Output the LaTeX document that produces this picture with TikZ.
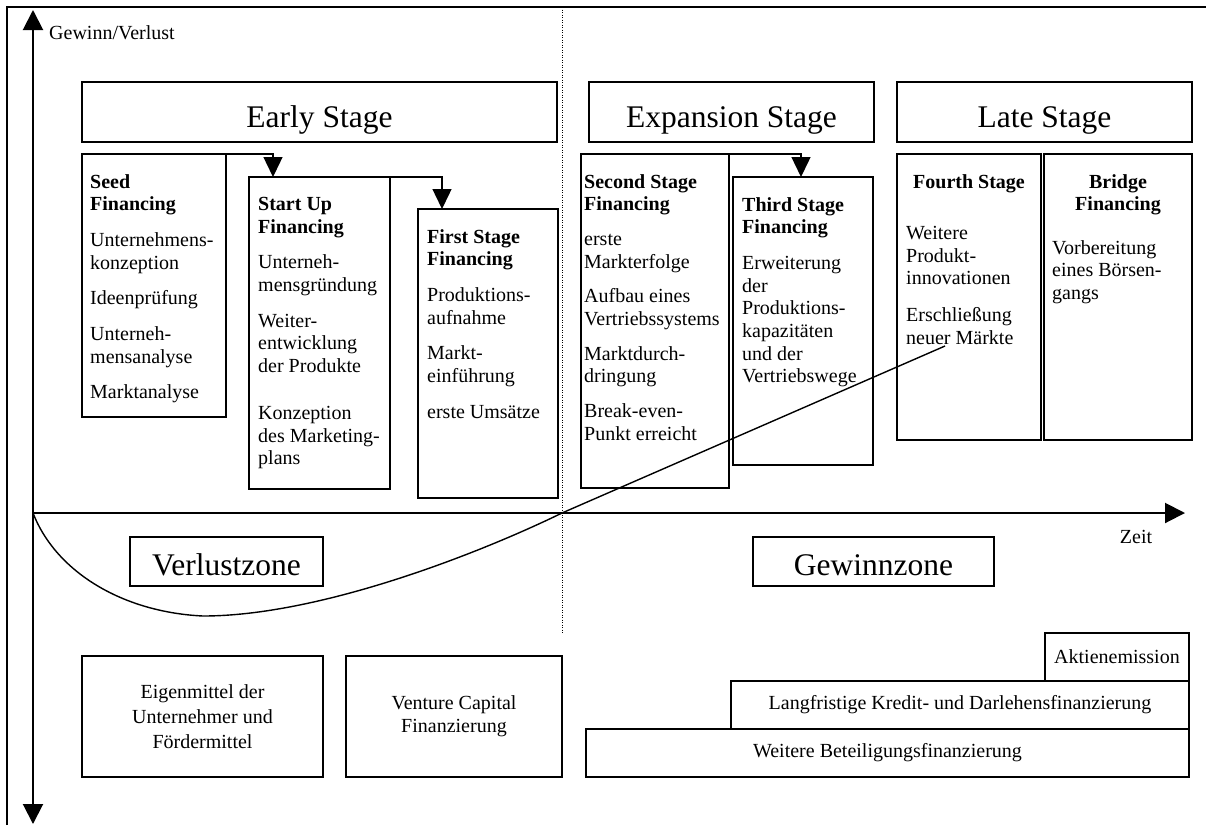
\documentclass[tikz,border=0pt]{standalone}
\usepackage{fontspec}
\setmainfont{Liberation Serif}
\usetikzlibrary{arrows.meta,calc}
\tikzset{
  bx/.style={draw, line width=1.4pt, anchor=north west, inner sep=0pt, outer sep=0pt},
  body/.style={anchor=north west, inner sep=0pt, align=left, font=\fontsize{20}{22.7}\selectfont},
  bhead/.style={inner sep=0pt, align=center, font=\bfseries\fontsize{20}{22.7}\selectfont},
  head/.style={anchor=base, inner sep=0pt, font=\fontsize{31.5}{36}\selectfont},
  ctr/.style={inner sep=0pt, align=center, font=\fontsize{20}{24}\selectfont},
  small/.style={inner sep=0pt, font=\fontsize{20}{24}\selectfont},
  conn/.style={line width=1.4pt, -{Triangle[width=19pt,length=20pt]}},
  axis/.style={line width=2pt},
  tip/.tip={Triangle[width=20pt,length=20pt]},
}
\begin{document}
\begin{tikzpicture}[x=1pt,y=-1pt]
\useasboundingbox (0,0) rectangle (1206,825);
\fill[white] (0,0) rectangle (1206,825);
% frame
\draw[line width=2pt] (7,825) -- (7,7) -- (1206,7);
% axes
\coordinate (O) at (33,513);
\coordinate (ytop) at (33,10);
\coordinate (ybot) at (33,824);
\coordinate (xend) at (1185,513);
\draw[axis, tip-tip] (ybot) -- (ytop);
\draw[axis, -tip] (O) -- (xend);
\node[small, anchor=base west] (ylab) at (49,39) {Gewinn/Verlust};
\node[small, anchor=base] (xlab) at (1136,543) {Zeit};
% dotted separator
\coordinate (dtop) at (562,7);
\coordinate (dbot) at (562,633);
\draw[line width=1pt, dash pattern=on 1pt off 1.5pt] (dtop) -- (dbot);

% stage header boxes
\node[bx, minimum width=475pt, minimum height=60pt] (early) at (82,82) {};
\node[head] (earlyt) at ($(early.center)+(0,15)$) {Early Stage};
\node[bx, minimum width=285pt, minimum height=60pt] (expan) at (589,82) {};
\node[head] (expant) at ($(expan.center)+(0,15)$) {Expansion Stage};
\node[bx, minimum width=295pt, minimum height=60pt] (late) at (897,82) {};
\node[head] (latet) at ($(late.center)+(0,15)$) {Late Stage};

% financing boxes
\node[bx, minimum width=144pt, minimum height=263pt] (seed) at (82,154) {};
\node[body] (seedt) at ($(seed.north west)+(8,20)$) {\textbf{Seed}\\\textbf{Financing}\\[13pt]Unternehmens-\\konzeption\\[13pt]Ideenprüfung\\[13pt]Unterneh-\\mensanalyse\\[13pt]Marktanalyse};

\node[bx, minimum width=141pt, minimum height=312pt] (startup) at (249,177) {};
\node[body] (startupt) at ($(startup.north west)+(9,20)$) {\textbf{Start Up}\\\textbf{Financing}\\[13pt]Unterneh-\\mensgründung\\[13pt]Weiter-\\entwicklung\\der Produkte\\[24pt]Konzeption\\des Marketing-\\plans};

\node[bx, minimum width=140pt, minimum height=289pt] (first) at (418,209) {};
\node[body] (firstt) at ($(first.north west)+(9,20)$) {\textbf{First Stage}\\\textbf{Financing}\\[13pt]Produktions-\\aufnahme\\[13pt]Markt-\\einführung\\[13pt]erste Umsätze};

\node[bx, minimum width=148pt, minimum height=334pt] (second) at (581,154) {};
\node[body] (secondt) at ($(second.north west)+(3,20)$) {\textbf{Second Stage}\\\textbf{Financing}\\[12pt]erste\\Markterfolge\\[12pt]Aufbau eines\\Vertriebssystems\\[12pt]Marktdurch-\\dringung\\[12pt]Break-even-\\Punkt erreicht};

\node[bx, minimum width=140pt, minimum height=288pt] (third) at (733,177) {};
\node[body] (thirdt) at ($(third.north west)+(9,20)$) {\textbf{Third Stage}\\\textbf{Financing}\\[13pt]Erweiterung\\der\\Produktions-\\kapazitäten\\und der\\Vertriebswege};

\node[bx, minimum width=144pt, minimum height=286pt] (fourth) at (897,154) {};
\node[bhead, anchor=base] (fourthh) at ($(fourth.north)+(0,34)$) {Fourth Stage};
\node[body] (fourtht) at ($(fourth.north west)+(9,72)$) {Weitere\\Produkt-\\innovationen\\[14pt]Erschließung\\neuer Märkte};

\node[bx, minimum width=148pt, minimum height=286pt] (bridge) at (1044,154) {};
\node[bhead, anchor=north] (bridgeh) at ($(bridge.north)+(0,20)$) {Bridge\\Financing};
\node[body] (bridget) at ($(bridge.north west)+(8,86)$) {Vorbereitung\\eines Börsen-\\gangs};

% connectors
\coordinate (k1) at (273,154);
\coordinate (k2) at (442,177);
\coordinate (k3) at (801,154);
\draw[conn] (seed.north east) -- (k1) -- (k1 |- startup.north);
\draw[conn] (startup.north east) -- (k2) -- (k2 |- first.north);
\draw[conn] (second.north east) -- (k3) -- (k3 |- third.north);

% zones
\node[bx, minimum width=193pt, minimum height=49pt] (verl) at (130,537) {};
\node[head] (verlt) at ($(verl.center)+(0,13.5)$) {Verlustzone};
\node[bx, minimum width=241pt, minimum height=49pt] (gew) at (753,537) {};
\node[head] (gewt) at ($(gew.center)+(0,13.5)$) {Gewinnzone};

% curve
\coordinate (cmin) at (203,616);
\coordinate (cbe) at (562,513);
\coordinate (cend) at (945,346);
\draw[line width=1.4pt] (O) .. controls (55,570) and (120,612) .. (cmin) .. controls (320,616) and (480,553) .. (cbe) -- (cend);

% financing sources
\node[bx, minimum width=241pt, minimum height=121pt] (eigen) at (82,656) {};
\node[ctr, font=\fontsize{20}{25}\selectfont] (eigent) at (eigen.center) {Eigenmittel der\\Unternehmer und\\Fördermittel};
\node[bx, minimum width=216pt, minimum height=121pt] (vc) at (346,656) {};
\node[ctr, font=\fontsize{20}{23}\selectfont] (vct) at (vc.center) {Venture Capital\\Finanzierung};
\node[bx, minimum width=144pt, minimum height=48pt] (akt) at (1045,633) {};
\node[ctr] (aktt) at (akt.center) {Aktienemission};
\node[bx, minimum width=458pt, minimum height=48pt] (lang) at (731,681) {};
\node[ctr] (langt) at (lang.center) {Langfristige Kredit- und Darlehensfinanzierung};
\node[bx, minimum width=603pt, minimum height=48pt] (weit) at (586,729) {};
\node[ctr] (weitt) at (weit.center) {Weitere Beteiligungsfinanzierung};
\end{tikzpicture}
\end{document}
